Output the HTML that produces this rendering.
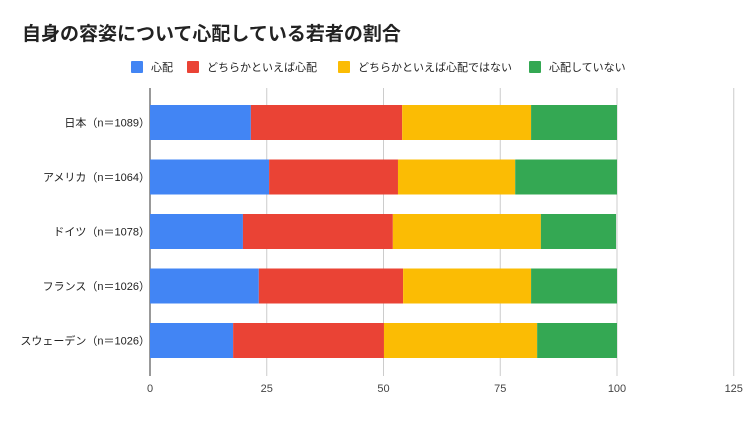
<!DOCTYPE html>
<html><head><meta charset="utf-8"><style>
body{margin:0;background:#fff;font-family:"Liberation Sans","Noto Sans CJK JP",sans-serif;}
svg text{font-family:"Liberation Sans","Noto Sans CJK JP",sans-serif;}
</style></head><body>
<svg id="chart" width="754" height="417">
<rect width="754" height="417" fill="#fff"/>
<text x="22" y="40" font-size="19" font-weight="bold" fill="#222">自身の容姿について心配している若者の割合</text>
<g id="legend"></g>
<g id="grid"></g>
<g id="bars"></g>
<g id="labels"></g>
<g id="ticks"></g>
</svg>
<script>
const categories=["日本（n＝1089）","アメリカ（n＝1064）","ドイツ（n＝1078）","フランス（n＝1026）","スウェーデン（n＝1026）"];
const seriesNames=["心配","どちらかといえば心配","どちらかといえば心配ではない","心配していない"];
const worried=[21.6,25.5,19.9,23.3,17.8];
const somewhatWorried=[32.4,27.6,32.1,30.9,32.3];
const somewhatNot=[27.6,25.1,31.7,27.4,32.8];
const notWorried=[18.4,21.8,16.1,18.4,17.1];
const tickValues=[0,25,50,75,100,125];
const colors=["#4285f4","#ea4335","#fbbc04","#34a853"];
const NS="http://www.w3.org/2000/svg";
const x0=150,x100=617;
const xs=v=>x0+(x100-x0)*v/100;
const barTop=105,barStep=54.5,barH=35;
function mk(tag,attrs,parent){const e=document.createElementNS(NS,tag);for(const k in attrs)e.setAttribute(k,attrs[k]);parent.appendChild(e);return e;}
const grid=document.getElementById('grid'),ticks=document.getElementById('ticks');
tickValues.forEach(t=>{
 const l=mk('line',{x1:xs(t),x2:xs(t),y1:88,y2:376,stroke:t===0?'#333':'#ccc','stroke-width':1},grid);
 
 
 const tx=mk('text',{x:xs(t),y:392,'font-size':11,'text-anchor':'middle',fill:'#444'},ticks);
 tx.textContent=t;
 
 
});
const series=[worried,somewhatWorried,somewhatNot,notWorried];
const bars=document.getElementById('bars'),labels=document.getElementById('labels');
categories.forEach((c,i)=>{
 const y=barTop+i*barStep;
 let acc=0;
 series.forEach((s,j)=>{
  const r=mk('rect',{x:xs(acc),y:y,width:xs(acc+s[i])-xs(acc),height:barH,fill:colors[j]},bars);
  
  
  acc+=s[i];
 });
 const t=mk('text',{x:150,y:y+barH/2+4,'font-size':11,'text-anchor':'end',fill:'#222'},labels);
 t.textContent=c;
 
 
});
const legend=document.getElementById('legend');
const lx=[131,187,338,529];
seriesNames.forEach((n,j)=>{
 const r=mk('rect',{x:lx[j],y:61,width:12,height:12,rx:1,fill:colors[j]},legend);
 
 
 const t=mk('text',{x:lx[j]+20,y:71,'font-size':11,fill:'#222'},legend);
 t.textContent=n;
 
 
});
</script>
</body></html>
